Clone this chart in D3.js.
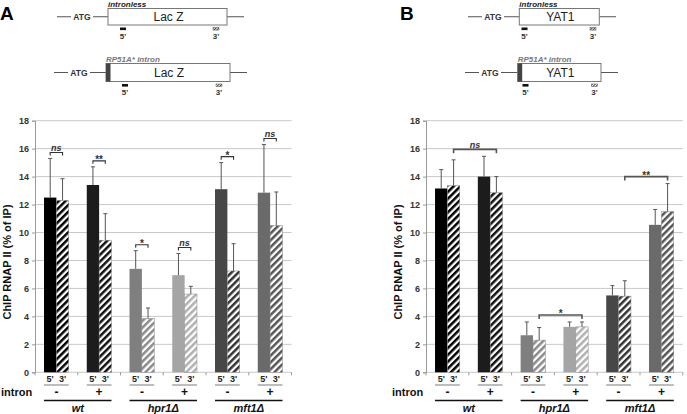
<!DOCTYPE html>
<html>
<head>
<meta charset="utf-8">
<script src="https://cdn.jsdelivr.net/npm/d3@7"></script>
<style>
  body { margin: 0; background: #fff; }
  svg { display: block; font-family: "Liberation Sans", Arial, sans-serif; }
  .tick-label { font-size: 9px; font-weight: bold; fill: #333; }
</style>
</head>
<body>
<div id="fig"></div>
<script>
// ---- data ----
const conditions = ['wt -', 'wt +', 'hpr1 -', 'hpr1 +', 'mft1 -', 'mft1 +'];
const intronSigns = ['-', '+', '-', '+', '-', '+'];
const strains = ['wt', 'hpr1Δ', 'mft1Δ'];
const probes = ["5'", "3'"];
const yTicks = [0, 2, 4, 6, 8, 10, 12, 14, 16, 18];

// Lac Z (panel A)
const lacZ5 = [12.5, 13.4, 7.4, 6.95, 13.1, 12.85];
const lacZ5Err = [2.8, 1.3, 1.3, 1.55, 1.9, 3.45];
const lacZ3 = [12.3, 9.45, 3.85, 5.6, 7.25, 10.5];
const lacZ3Err = [1.55, 1.9, 0.75, 0.55, 1.95, 2.4];

// YAT1 (panel B)
const yat5 = [13.15, 14.0, 2.65, 3.25, 5.5, 10.55];
const yat5Err = [1.35, 1.45, 0.95, 0.35, 0.7, 1.1];
const yat3 = [13.35, 12.85, 2.3, 3.25, 5.45, 11.5];
const yat3Err = [1.85, 1.15, 0.9, 0.35, 1.1, 2.0];

// significance: [condition, probe] -> [condition, probe]
const sigA = [
  { a: [0, 0], b: [0, 1], label: 'ns' },
  { a: [1, 0], b: [1, 1], label: '**' },
  { a: [2, 0], b: [2, 1], label: '*' },
  { a: [3, 0], b: [3, 1], label: 'ns' },
  { a: [4, 0], b: [4, 1], label: '*' },
  { a: [5, 0], b: [5, 1], label: 'ns' }
];
const sigB = [
  { a: [0, 1], b: [1, 1], label: 'ns' },
  { a: [2, 1], b: [3, 1], label: '*' },
  { a: [4, 1], b: [5, 1], label: '**' }
];

const solidColors = ['#000000', '#1c1c1c', '#7f7f7f', '#a5a5a5', '#474747', '#6a6a6a'];
const hatchColors = ['#000000', '#111111', '#8a8a8a', '#b0b0b0', '#333333', '#555555'];

const W = 687, H = 414;
const svg = d3.select('#fig').append('svg').attr('width', W).attr('height', H);
const defs = svg.append('defs');

hatchColors.forEach((c, i) => {
  const p = defs.append('pattern')
    .attr('id', `hatch${i}`)
    .attr('patternUnits', 'userSpaceOnUse')
    .attr('width', 4.8).attr('height', 4.8)
    .attr('patternTransform', 'rotate(45)');
  p.append('rect').attr('width', 4.8).attr('height', 4.8).attr('fill', '#fff');
  p.append('rect').attr('width', 2.5).attr('height', 4.8).attr('fill', c);
});
// small hatch for probe markers
const ph = defs.append('pattern')
  .attr('id', 'probeHatch')
  .attr('patternUnits', 'userSpaceOnUse')
  .attr('width', 2).attr('height', 2)
  .attr('patternTransform', 'rotate(45)');
ph.append('rect').attr('width', 2).attr('height', 2).attr('fill', '#fff');
ph.append('rect').attr('width', 1).attr('height', 2).attr('fill', '#444');

// ---- gene diagrams ----
function drawGene(g, o) {
  const lineY = o.y + (o.h / 2);
  g.append('line').attr('x1', o.lineStart).attr('x2', o.atgX - 11)
    .attr('y1', lineY).attr('y2', lineY).attr('stroke', '#555').attr('stroke-width', 1);
  g.append('text').attr('x', o.atgX).attr('y', lineY + 3.2)
    .attr('text-anchor', 'middle').attr('font-size', 8.5).attr('font-weight', 'bold')
    .attr('fill', '#333').text('ATG');
  g.append('line').attr('x1', o.atgX + 11).attr('x2', o.boxX)
    .attr('y1', lineY).attr('y2', lineY).attr('stroke', '#555').attr('stroke-width', 1);
  g.append('line').attr('x1', o.boxX + o.boxW).attr('x2', o.lineEnd)
    .attr('y1', lineY).attr('y2', lineY).attr('stroke', '#555').attr('stroke-width', 1);
  g.append('rect').attr('x', o.boxX).attr('y', o.y).attr('width', o.boxW).attr('height', o.h)
    .attr('fill', '#fff').attr('stroke', '#777').attr('stroke-width', 1);
  if (o.intron) {
    g.append('rect').attr('x', o.boxX).attr('y', o.y).attr('width', 4.5).attr('height', o.h)
      .attr('fill', '#444');
  }
  g.append('text').attr('x', o.boxX + o.boxW / 2 + 1).attr('y', o.y + o.h / 2 + 4.5)
    .attr('text-anchor', 'middle').attr('font-size', 12).attr('fill', '#222').text(o.name);
  g.append('text').attr('x', o.boxX).attr('y', o.y - 1.5)
    .attr('font-size', 8).attr('font-weight', 'bold').attr('font-style', 'italic')
    .attr('fill', o.intron ? '#777' : '#222')
    .text(o.intron ? 'RP51A* intron' : 'intronless');
  // probes
  g.append('rect').attr('x', o.p5).attr('y', o.y + o.h + 2.5).attr('width', 6).attr('height', 2.6)
    .attr('fill', '#111');
  g.append('rect').attr('x', o.p3).attr('y', o.y + o.h + 2.5).attr('width', 6).attr('height', 2.6)
    .attr('fill', 'url(#probeHatch)').attr('stroke', '#555').attr('stroke-width', 0.5);
  g.append('text').attr('x', o.p5 + 3).attr('y', o.y + o.h + 13.5)
    .attr('text-anchor', 'middle').attr('font-size', 8).attr('font-weight', 'bold').attr('fill', '#333').text("5'");
  g.append('text').attr('x', o.p3 + 3).attr('y', o.y + o.h + 13.5)
    .attr('text-anchor', 'middle').attr('font-size', 8).attr('font-weight', 'bold').attr('fill', '#333').text("3'");
}

// ---- bar chart panel ----
function drawPanel(opt) {
  const g = svg.append('g');

  g.append('text').attr('x', opt.letterX).attr('y', 20)
    .attr('font-size', 19).attr('font-weight', 'bold').attr('fill', '#000').text(opt.letter);

  opt.genes.forEach(d => drawGene(g, d));

  const x = d3.scaleBand().domain(d3.range(conditions.length)).range([opt.x0, opt.x1]);
  const xp = d3.scaleBand().domain(probes).range([0, x.bandwidth()]).paddingOuter(0.73);
  const y = d3.scaleLinear().domain([0, 18]).range([372.3, 120.7]);

  const cx = (c, p) => x(c) + xp(probes[p]) + xp.bandwidth() / 2;

  // gridlines
  g.append('g').selectAll('line').data(yTicks).join('line')
    .attr('x1', opt.x0).attr('x2', opt.x1)
    .attr('y1', d => y(d)).attr('y2', d => y(d))
    .attr('stroke', '#c9c9c9').attr('stroke-width', 1);

  // y axis
  const ax = g.append('g').attr('transform', `translate(${opt.x0},0)`)
    .call(d3.axisLeft(y).tickValues(yTicks).tickSize(3).tickPadding(3));
  ax.select('.domain').attr('stroke', '#999');
  ax.selectAll('.tick line').attr('stroke', '#999');
  ax.selectAll('.tick text').attr('class', 'tick-label').attr('font-family', null).attr('font-size', null);

  // category ticks under axis
  g.append('g').selectAll('line').data(d3.range(conditions.length + 1)).join('line')
    .attr('x1', d => opt.x0 + d * x.step()).attr('x2', d => opt.x0 + d * x.step())
    .attr('y1', y(0)).attr('y2', y(0) + 3)
    .attr('stroke', '#999');

  // bars
  const bars = [];
  conditions.forEach((c, i) => {
    bars.push({ c: i, p: 0, v: opt.v5[i], e: opt.e5[i] });
    bars.push({ c: i, p: 1, v: opt.v3[i], e: opt.e3[i] });
  });

  g.append('g').selectAll('rect').data(bars).join('rect')
    .attr('x', d => x(d.c) + xp(probes[d.p]))
    .attr('width', xp.bandwidth())
    .attr('y', d => y(d.v))
    .attr('height', d => y(0) - y(d.v))
    .attr('fill', d => d.p === 0 ? solidColors[d.c] : `url(#hatch${d.c})`)
    .attr('stroke', d => d.p === 0 ? 'none' : '#888')
    .attr('stroke-width', 0.5);

  // error bars (upper only)
  const eg = g.append('g').attr('stroke', '#555').attr('stroke-width', 1);
  eg.selectAll('line.stem').data(bars).join('line').attr('class', 'stem')
    .attr('x1', d => cx(d.c, d.p)).attr('x2', d => cx(d.c, d.p))
    .attr('y1', d => y(d.v)).attr('y2', d => y(d.v + d.e));
  eg.selectAll('line.cap').data(bars).join('line').attr('class', 'cap')
    .attr('x1', d => cx(d.c, d.p) - 2).attr('x2', d => cx(d.c, d.p) + 2)
    .attr('y1', d => y(d.v + d.e)).attr('y2', d => y(d.v + d.e));

  // significance brackets
  opt.sig.forEach(s => {
    const xa = cx(s.a[0], s.a[1]);
    const xb = cx(s.b[0], s.b[1]);
    let m = 0;
    bars.forEach(b => {
      const bx = cx(b.c, b.p);
      if (bx >= xa - 0.1 && bx <= xb + 0.1) m = Math.max(m, b.v + b.e);
    });
    const by = y(m) - opt.sigGap;
    g.append('path')
      .attr('d', `M${xa},${by + opt.sigTick}V${by}H${xb}V${by + opt.sigTick}`)
      .attr('fill', 'none').attr('stroke', opt.sigColor).attr('stroke-width', opt.sigWidth);
    g.append('text').attr('x', (xa + xb) / 2).attr('y', by - (s.label === 'ns' ? 1 : -2))
      .attr('text-anchor', 'middle').attr('font-size', s.label === 'ns' ? 9 : 10)
      .attr('font-weight', 'bold')
      .attr('font-style', s.label === 'ns' ? 'italic' : 'normal')
      .attr('fill', '#333').text(s.label);
  });

  // probe labels under each pair
  conditions.forEach((c, i) => {
    probes.forEach((p, j) => {
      g.append('text').attr('x', cx(i, j)).attr('y', 382)
        .attr('text-anchor', 'middle').attr('font-size', 9).attr('font-weight', 'bold')
        .attr('fill', '#222').text(p);
    });
    g.append('line')
      .attr('x1', x(i) + xp(probes[0])).attr('x2', x(i) + xp(probes[1]) + xp.bandwidth())
      .attr('y1', 385).attr('y2', 385).attr('stroke', '#999').attr('stroke-width', 1.3);
    g.append('text').attr('x', x(i) + x.bandwidth() / 2).attr('y', 396)
      .attr('text-anchor', 'middle').attr('font-size', 12).attr('font-weight', 'bold')
      .attr('fill', '#111').text(intronSigns[i]);
  });

  g.append('text').attr('x', opt.intronX).attr('y', 396)
    .attr('font-size', 11).attr('font-weight', 'bold').attr('fill', '#111').text('intron');

  strains.forEach((s, k) => {
    const a = x(2 * k) + xp(probes[0]);
    const b = x(2 * k + 1) + xp(probes[1]) + xp.bandwidth();
    g.append('line').attr('x1', a).attr('x2', b).attr('y1', 400.5).attr('y2', 400.5)
      .attr('stroke', '#111').attr('stroke-width', 1.3);
    g.append('text').attr('x', (a + b) / 2).attr('y', 412)
      .attr('text-anchor', 'middle').attr('font-size', 11).attr('font-weight', 'bold')
      .attr('font-style', 'italic').attr('fill', '#111').text(s);
  });

  // y title
  g.append('text')
    .attr('transform', `translate(${opt.x0 - 24},262) rotate(-90)`)
    .attr('text-anchor', 'middle').attr('font-size', 11).attr('font-weight', 'bold')
    .attr('fill', '#111').text('ChIP RNAP II (% of IP)');
}

drawPanel({
  letter: 'A', letterX: 0, x0: 35, x1: 291.5, intronX: 1,
  v5: lacZ5, e5: lacZ5Err, v3: lacZ3, e3: lacZ3Err, sig: sigA,
  sigGap: 6, sigTick: 3, sigColor: '#333', sigWidth: 1.1,
  genes: [
    { name: 'Lac Z', y: 8.5, h: 16.5, lineStart: 57, atgX: 82, boxX: 108, boxW: 119, lineEnd: 244, p5: 120, p3: 213, intron: false },
    { name: 'Lac Z', y: 63.5, h: 18, lineStart: 54, atgX: 79, boxX: 106, boxW: 124, lineEnd: 247, p5: 122, p3: 216, intron: true }
  ]
});

drawPanel({
  letter: 'B', letterX: 400, x0: 426, x1: 682.8, intronX: 392,
  v5: yat5, e5: yat5Err, v3: yat3, e3: yat3Err, sig: sigB,
  sigGap: 7, sigTick: 4, sigColor: '#555', sigWidth: 1.6,
  genes: [
    { name: 'YAT1', y: 8.5, h: 16.5, lineStart: 468, atgX: 493, boxX: 519.3, boxW: 80, lineEnd: 616, p5: 521.5, p3: 590, intron: false },
    { name: 'YAT1', y: 63.5, h: 18, lineStart: 465, atgX: 490, boxX: 517.7, boxW: 83.3, lineEnd: 618, p5: 522.5, p3: 591.5, intron: true }
  ]
});
</script>
</body>
</html>
